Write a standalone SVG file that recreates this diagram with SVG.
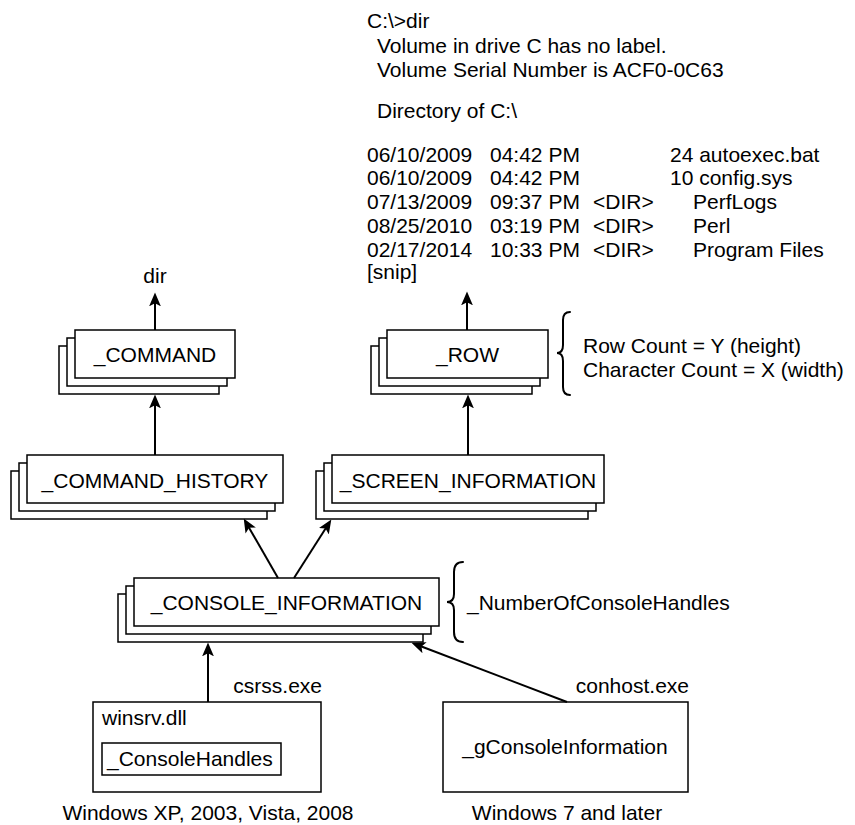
<svg xmlns="http://www.w3.org/2000/svg" width="855" height="825" viewBox="0 0 855 825">
<style>
text{font-family:"Liberation Sans",Arial,sans-serif;font-size:21px;fill:#000}
.c{text-anchor:middle}
.e{text-anchor:end}
.box{fill:#fff;stroke:#000;stroke-width:1.5}
.conn{fill:none;stroke:#000;stroke-width:2;marker-end:url(#arr)}
.brace{fill:none;stroke:#000;stroke-width:2;stroke-linecap:round}
</style>
<defs>
<marker id="arr" markerUnits="userSpaceOnUse" markerWidth="14" markerHeight="12" viewBox="0 0 13 11" refX="5" refY="5.5" orient="auto">
<path d="M0,0 L13,5.5 L0,11 L3,5.5 Z" fill="#000"/>
</marker>
</defs>
<rect width="855" height="825" fill="#fff"/>

<g id="listing">
<text x="367" y="28">C:\&gt;dir</text>
<text x="377" y="53">Volume in drive C has no label.</text>
<text x="377" y="77">Volume Serial Number is ACF0-0C63</text>
<text x="377" y="118">Directory of C:\</text>
<text x="367" y="162">06/10/2009</text><text x="490" y="162">04:42 PM</text><text x="670" y="162">24 autoexec.bat</text>
<text x="367" y="185">06/10/2009</text><text x="490" y="185">04:42 PM</text><text x="670" y="185">10 config.sys</text>
<text x="367" y="209">07/13/2009</text><text x="490" y="209">09:37 PM</text><text x="593" y="209">&lt;DIR&gt;</text><text x="693" y="209">PerfLogs</text>
<text x="367" y="233">08/25/2010</text><text x="490" y="233">03:19 PM</text><text x="593" y="233">&lt;DIR&gt;</text><text x="693" y="233">Perl</text>
<text x="367" y="257">02/17/2014</text><text x="490" y="257">10:33 PM</text><text x="593" y="257">&lt;DIR&gt;</text><text x="693" y="257">Program Files</text>
<text x="367" y="279">[snip]</text>
</g>

<g id="dir-label"><text class="c" x="155" y="283">dir</text></g>

<g id="command">
<rect class="box" x="59" y="346" width="160" height="48"/>
<rect class="box" x="67" y="338" width="160" height="48"/>
<rect class="box" x="75" y="330" width="160" height="48"/>
<text class="c" x="155" y="362">_COMMAND</text>
</g>

<g id="row">
<rect class="box" x="371" y="346" width="161" height="48"/>
<rect class="box" x="379" y="338" width="161" height="48"/>
<rect class="box" x="387" y="330" width="161" height="48"/>
<text class="c" x="467.5" y="362">_ROW</text>
</g>

<g id="row-note">
<path class="brace" d="M570,312 Q563,312 563,320 L563,345 Q563,353 557,353 Q563,353 563,361 L563,387 Q563,395 570,395"/>
<text x="583" y="353">Row Count = Y (height)</text>
<text x="583" y="377">Character Count = X (width)</text>
</g>

<g id="command-history">
<rect class="box" x="11" y="471" width="256" height="48"/>
<rect class="box" x="19" y="463" width="256" height="48"/>
<rect class="box" x="27" y="455" width="256" height="48"/>
<text class="c" x="155" y="488">_COMMAND_HISTORY</text>
</g>

<g id="screen-information">
<rect class="box" x="316" y="471" width="272" height="48"/>
<rect class="box" x="324" y="463" width="272" height="48"/>
<rect class="box" x="332" y="455" width="272" height="48"/>
<text class="c" x="468" y="488">_SCREEN_INFORMATION</text>
</g>

<g id="console-information">
<rect class="box" x="118" y="594" width="305" height="48"/>
<rect class="box" x="126" y="586" width="305" height="48"/>
<rect class="box" x="134" y="578" width="305" height="48"/>
<text class="c" x="286.5" y="610">_CONSOLE_INFORMATION</text>
</g>

<g id="console-note">
<path class="brace" d="M463,562 Q454,562 454,572 L454,594 Q454,602 447,602 Q454,602 454,610 L454,632 Q454,642 463,642"/>
<text x="467" y="610">_NumberOfConsoleHandles</text>
</g>

<g id="csrss">
<text class="e" x="322" y="693">csrss.exe</text>
<rect class="box" x="93" y="702" width="228" height="90"/>
<text x="102" y="725">winsrv.dll</text>
<rect class="box" x="102" y="743" width="179" height="32"/>
<text x="107" y="766">_ConsoleHandles</text>
<text class="c" x="208" y="820">Windows XP, 2003, Vista, 2008</text>
</g>

<g id="conhost">
<text class="e" x="689" y="693">conhost.exe</text>
<rect class="box" x="443" y="702" width="245" height="90"/>
<text class="c" x="565" y="754">_gConsoleInformation</text>
<text class="c" x="567" y="820">Windows 7 and later</text>
</g>

<g id="connectors">
<path class="conn" d="M155,330 L155,301"/>
<path class="conn" d="M155,455 L155,403"/>
<path class="conn" d="M467,330 L467,300"/>
<path class="conn" d="M468,455 L468,403"/>
<path class="conn" d="M278,578 L248,525.9"/>
<path class="conn" d="M294,578 L326.7,526.7"/>
<path class="conn" d="M208,702 L208,651"/>
<path class="conn" d="M567,702 L419.5,645.8"/>
</g>
</svg>
